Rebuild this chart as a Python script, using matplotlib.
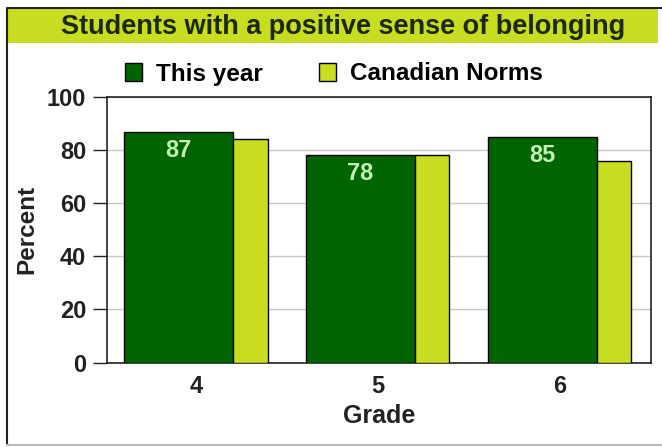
import numpy as np
import matplotlib
matplotlib.use('Agg')
import matplotlib.pyplot as plt
from matplotlib.patches import Rectangle

plt.rcParams['font.family'] = ['Liberation Sans', 'DejaVu Sans']

grades = ['4', '5', '6']
this_year = [87, 78, 85]
norms = [84, 78, 76]
title = 'Students with a positive sense of belonging'

GREEN = '#006400'
YELLOW = '#c8dc20'
TEXT = '#222222'


def main():
    fig = plt.figure(figsize=(6.62, 4.47), dpi=100)

    # title band and outer frame
    fig.patches.append(Rectangle((8 / 662, 1 - 43 / 447), 650 / 662, 34 / 447,
                                 transform=fig.transFigure, facecolor=YELLOW,
                                 edgecolor='none', zorder=0))
    fig.lines.append(plt.Line2D([7 / 662, 7 / 662, 1], [1 - 445 / 447, 1 - 8 / 447, 1 - 8 / 447],
                                transform=fig.transFigure, color='#222222', lw=1.5))
    fig.lines.append(plt.Line2D([7 / 662, 1], [1 - 445 / 447, 1 - 445 / 447],
                                transform=fig.transFigure, color='#bbbbbb', lw=1.5))
    fig.text(343 / 662, 1 - 27 / 447, title, ha='center', va='center',
             fontsize=19.5, fontweight='bold', color='#1c2a0c')

    ax = fig.add_axes([107 / 662, 1 - 362.5 / 447, 544 / 662, 265.5 / 447])
    x = np.arange(len(grades))
    b1 = ax.bar(x - 0.395, this_year, width=0.60, align='edge', color=GREEN,
                edgecolor='black', linewidth=1, zorder=3, label='This year')
    b2 = ax.bar(x + 0.205, norms, width=0.19, align='edge', color=YELLOW,
                edgecolor='black', linewidth=1, zorder=3, label='Canadian Norms')

    for xi, v in zip(x, this_year):
        ax.text(xi - 0.095, v - 7, str(v), ha='center', va='center',
                fontsize=17, fontweight='bold', color='#c4f0b4', zorder=4)

    ax.set_xlim(-0.49, 2.505)
    ax.set_ylim(0, 100)
    ax.set_yticks(range(0, 101, 20))
    ax.set_xticks(x)
    ax.set_xticklabels(grades)
    ax.grid(axis='y', color='#c8c8c8', lw=1, zorder=0)
    ax.tick_params(axis='y', length=10, width=1, labelsize=17, colors=TEXT, pad=5)
    ax.tick_params(axis='x', length=0, labelsize=17, colors=TEXT, pad=9)
    for lab in ax.get_xticklabels() + ax.get_yticklabels():
        lab.set_fontweight('bold')
    for s in ax.spines.values():
        s.set_color('#222222')
        s.set_linewidth(1.2)

    ax.set_xlabel('Grade', fontsize=18, fontweight='bold', color=TEXT, labelpad=4)
    ax.set_ylabel('Percent', fontsize=17.5, fontweight='bold', color=TEXT, labelpad=6)

    fig.legend(handles=[b1, b2], loc='center', bbox_to_anchor=(334 / 662, 1 - 74 / 447),
               ncol=2, frameon=False, prop={'weight': 'bold', 'size': 17.5},
               handlelength=0.7, handleheight=0.7, handletextpad=0.6, columnspacing=2.3)

    fig.savefig('out.png', dpi=100)


if __name__ == '__main__':
    main()
